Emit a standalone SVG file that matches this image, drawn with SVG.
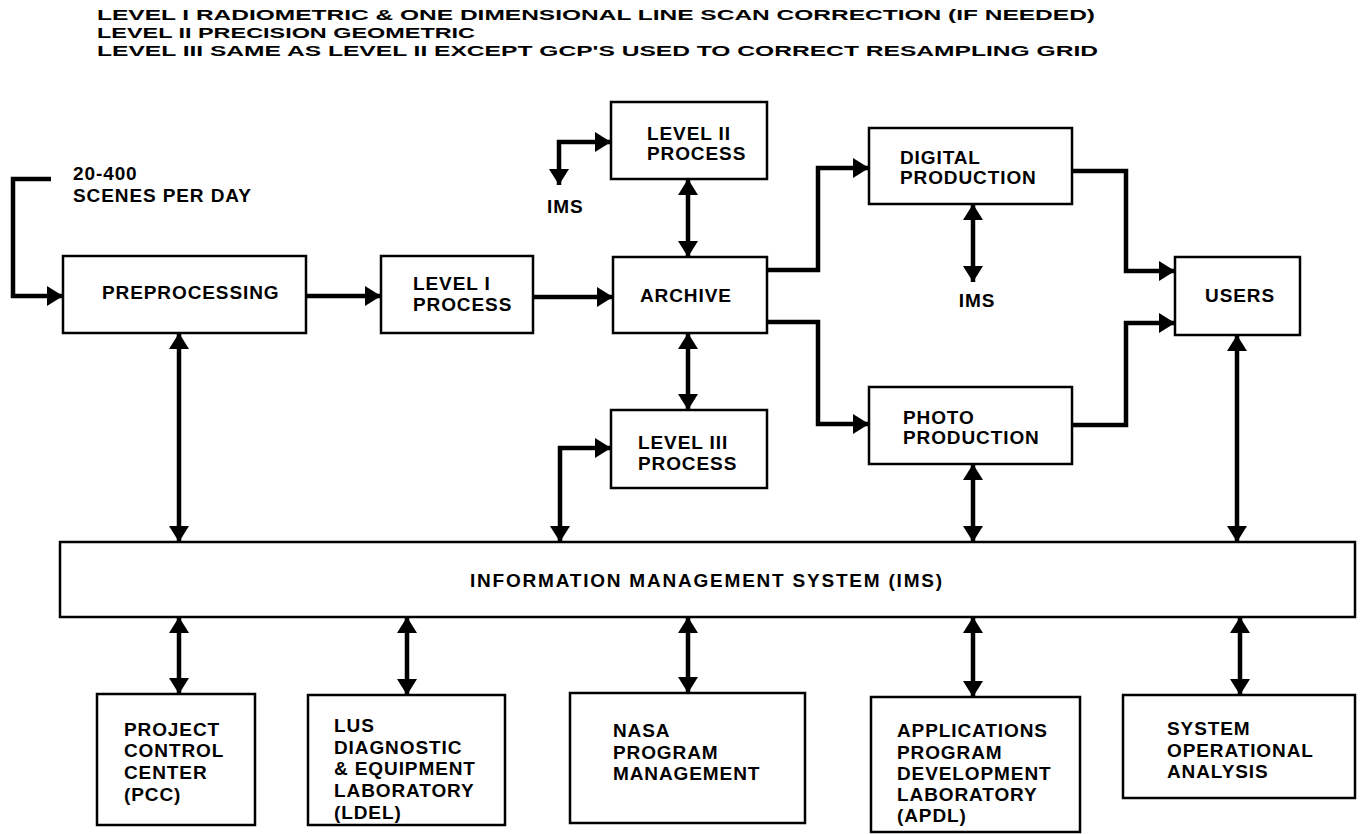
<svg xmlns="http://www.w3.org/2000/svg" width="1361" height="834" viewBox="0 0 1361 834">
<style>
  .box{fill:#fff;stroke:#000;stroke-width:2.5}
  .t{font-family:"Liberation Sans",Arial,sans-serif;font-weight:bold;font-size:19px;letter-spacing:0.9px;fill:#000}
  .h{font-family:"Liberation Sans",Arial,sans-serif;font-weight:bold;font-size:15px;fill:#000}
  .c{fill:none;stroke:#000;stroke-width:4.5}
</style>
<defs>
  <marker id="ah" markerUnits="userSpaceOnUse" markerWidth="18" markerHeight="22" refX="16" refY="10" orient="auto-start-reverse" viewBox="0 0 18 22">
    <path d="M0,0 L16,10 L0,20 z" fill="#000"/>
  </marker>
</defs>
<rect width="1361" height="834" fill="#fff"/>
<g id="header">
  <text class="h" x="97" y="20" textLength="998" lengthAdjust="spacingAndGlyphs">LEVEL I RADIOMETRIC &amp; ONE DIMENSIONAL LINE SCAN CORRECTION (IF NEEDED)</text>
  <text class="h" x="97" y="38" textLength="378" lengthAdjust="spacingAndGlyphs">LEVEL II PRECISION GEOMETRIC</text>
  <text class="h" x="97" y="56" textLength="1001" lengthAdjust="spacingAndGlyphs">LEVEL III SAME AS LEVEL II EXCEPT GCP'S USED TO CORRECT RESAMPLING GRID</text>
</g>
<g id="input-label">
  <text class="t" x="73" y="180">20-400</text>
  <text class="t" x="73" y="202">SCENES PER DAY</text>
</g>
<g id="connectors">
  <path class="c" d="M51,179 H13 V296 H63" marker-end="url(#ah)"/>
  <path class="c" d="M306,296 H381" marker-end="url(#ah)"/>
  <path class="c" d="M533,297 H613" marker-end="url(#ah)"/>
  <path class="c" d="M688,179 V257" marker-start="url(#ah)" marker-end="url(#ah)"/>
  <path class="c" d="M688,333 V410" marker-start="url(#ah)" marker-end="url(#ah)"/>
  <path class="c" d="M559,185 V142 H611" marker-start="url(#ah)" marker-end="url(#ah)"/>
  <path class="c" d="M560,542 V448 H611" marker-start="url(#ah)" marker-end="url(#ah)"/>
  <path class="c" d="M767,270 H818 V168 H869" marker-end="url(#ah)"/>
  <path class="c" d="M767,322 H818 V424 H869" marker-end="url(#ah)"/>
  <path class="c" d="M1072,171 H1126 V271 H1175" marker-end="url(#ah)"/>
  <path class="c" d="M1072,425 H1126 V323 H1175" marker-end="url(#ah)"/>
  <path class="c" d="M973,204 V282" marker-start="url(#ah)" marker-end="url(#ah)"/>
  <path class="c" d="M179,333 V542" marker-start="url(#ah)" marker-end="url(#ah)"/>
  <path class="c" d="M973,464 V542" marker-start="url(#ah)" marker-end="url(#ah)"/>
  <path class="c" d="M1237,335 V542" marker-start="url(#ah)" marker-end="url(#ah)"/>
  <path class="c" d="M179,617 V694" marker-start="url(#ah)" marker-end="url(#ah)"/>
  <path class="c" d="M407,617 V695" marker-start="url(#ah)" marker-end="url(#ah)"/>
  <path class="c" d="M688,617 V693" marker-start="url(#ah)" marker-end="url(#ah)"/>
  <path class="c" d="M973,617 V697" marker-start="url(#ah)" marker-end="url(#ah)"/>
  <path class="c" d="M1240,617 V695" marker-start="url(#ah)" marker-end="url(#ah)"/>
</g>
<g id="preprocessing">
  <rect class="box" x="63" y="256" width="243" height="77"/>
  <text class="t" x="102" y="299">PREPROCESSING</text>
</g>
<g id="level1">
  <rect class="box" x="381" y="256" width="152" height="77"/>
  <text class="t" x="413" y="290">LEVEL I</text>
  <text class="t" x="413" y="311">PROCESS</text>
</g>
<g id="archive">
  <rect class="box" x="613" y="257" width="154" height="76"/>
  <text class="t" x="640" y="302">ARCHIVE</text>
</g>
<g id="level2">
  <rect class="box" x="611" y="102" width="156" height="77"/>
  <text class="t" x="647" y="140">LEVEL II</text>
  <text class="t" x="647" y="160">PROCESS</text>
</g>
<g id="ims-label-1">
  <text class="t" x="547" y="213">IMS</text>
</g>
<g id="level3">
  <rect class="box" x="611" y="410" width="156" height="78"/>
  <text class="t" x="638" y="449">LEVEL III</text>
  <text class="t" x="638" y="470">PROCESS</text>
</g>
<g id="digital">
  <rect class="box" x="869" y="128" width="203" height="76"/>
  <text class="t" x="900" y="164">DIGITAL</text>
  <text class="t" x="900" y="184">PRODUCTION</text>
</g>
<g id="ims-label-2">
  <text class="t" x="977" y="307" text-anchor="middle">IMS</text>
</g>
<g id="photo">
  <rect class="box" x="869" y="387" width="203" height="77"/>
  <text class="t" x="903" y="424">PHOTO</text>
  <text class="t" x="903" y="444">PRODUCTION</text>
</g>
<g id="users">
  <rect class="box" x="1175" y="257" width="125" height="78"/>
  <text class="t" x="1240" y="302" text-anchor="middle">USERS</text>
</g>
<g id="ims">
  <rect class="box" x="60" y="542" width="1295" height="75"/>
  <text class="t" x="470" y="587" textLength="473">INFORMATION MANAGEMENT SYSTEM (IMS)</text>
</g>
<g id="pcc">
  <rect class="box" x="97" y="694" width="158" height="131"/>
  <text class="t" x="124" y="736">PROJECT</text>
  <text class="t" x="124" y="757">CONTROL</text>
  <text class="t" x="124" y="779">CENTER</text>
  <text class="t" x="124" y="801">(PCC)</text>
</g>
<g id="ldel">
  <rect class="box" x="308" y="695" width="197" height="130"/>
  <text class="t" x="334" y="732">LUS</text>
  <text class="t" x="334" y="754">DIAGNOSTIC</text>
  <text class="t" x="334" y="775">&amp; EQUIPMENT</text>
  <text class="t" x="334" y="797">LABORATORY</text>
  <text class="t" x="334" y="819">(LDEL)</text>
</g>
<g id="nasa">
  <rect class="box" x="570" y="693" width="235" height="130"/>
  <text class="t" x="613" y="737">NASA</text>
  <text class="t" x="613" y="759">PROGRAM</text>
  <text class="t" x="613" y="780">MANAGEMENT</text>
</g>
<g id="apdl">
  <rect class="box" x="871" y="697" width="209" height="135"/>
  <text class="t" x="897" y="737">APPLICATIONS</text>
  <text class="t" x="897" y="759">PROGRAM</text>
  <text class="t" x="897" y="780">DEVELOPMENT</text>
  <text class="t" x="897" y="801">LABORATORY</text>
  <text class="t" x="897" y="822">(APDL)</text>
</g>
<g id="soa">
  <rect class="box" x="1123" y="695" width="232" height="103"/>
  <text class="t" x="1167" y="735">SYSTEM</text>
  <text class="t" x="1167" y="757">OPERATIONAL</text>
  <text class="t" x="1167" y="778">ANALYSIS</text>
</g>
</svg>
